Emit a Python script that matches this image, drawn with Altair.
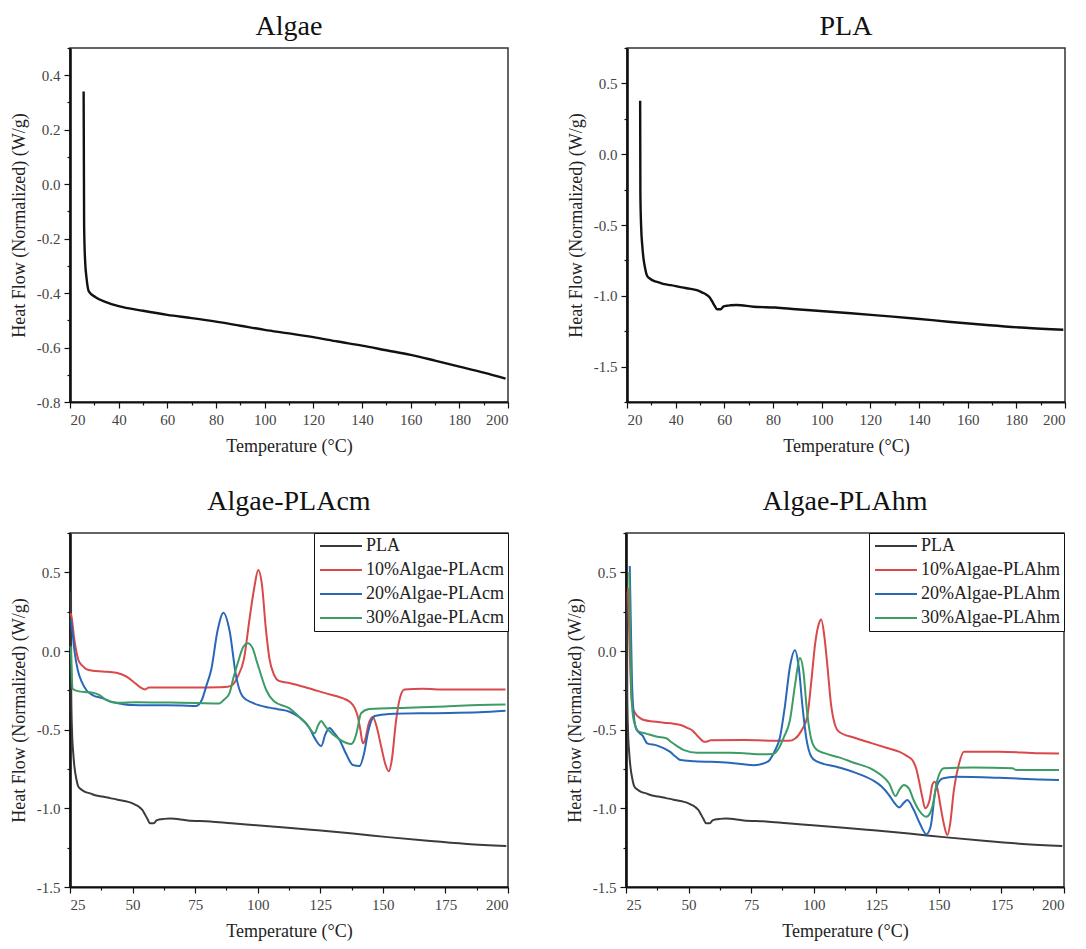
import altair as alt
import pandas as pd

FONT = "Liberation Serif"

# ---------------- data ----------------
algae_t = [25.6, 25.8, 26.2, 26.8, 27.8, 30.5, 34.8, 40, 50, 60, 70, 80, 90, 100,
           110, 120, 130, 140, 150, 160, 170, 180, 190, 199]
algae_v = [0.34, -0.15, -0.28, -0.345, -0.395, -0.415, -0.433, -0.448, -0.465, -0.48,
           -0.492, -0.505, -0.52, -0.535, -0.548, -0.562, -0.578, -0.593, -0.61,
           -0.627, -0.648, -0.67, -0.692, -0.714]

pla_t = [25.4, 25.5, 25.8, 26.3, 26.8, 27.5, 28.3, 29.5, 31, 33, 35.4, 38, 41, 44,
         46.8, 49, 51, 52.5, 54, 55, 56, 57, 58.5, 59.6, 61, 62.5, 65, 72, 81, 89.5,
         99.5, 112, 124, 138, 152, 169, 183.6, 199.3]
pla_v = [0.378, -0.28, -0.506, -0.65, -0.74, -0.81, -0.86, -0.88, -0.895, -0.905,
         -0.918, -0.925, -0.935, -0.945, -0.953, -0.962, -0.977, -0.99, -1.012, -1.04,
         -1.07, -1.095, -1.095, -1.076, -1.07, -1.067, -1.065, -1.077, -1.083, -1.095,
         -1.107, -1.123, -1.14, -1.16, -1.183, -1.208, -1.226, -1.24]

cm10_t = [25.3, 25.8, 26.5, 27.5, 28.4, 30, 31.5, 34, 38, 43.5, 47.6, 50.3, 53, 55,
          56.5, 65, 75, 84.6, 88, 90, 92, 94.5, 96.7, 98.7, 100.2, 101.7, 103.2, 104.7,
          106.5, 108.5, 113, 120, 127, 133.9, 136.7, 138.7, 140, 141, 142, 143, 144.2,
          146, 147.5, 149.5, 151, 152.4, 153.5, 155.3, 156.5, 158.6, 166, 175, 188.6, 199]
cm10_v = [0.24, 0.2, 0.1, 0.0, -0.06, -0.095, -0.115, -0.125, -0.13, -0.138, -0.163,
          -0.195, -0.23, -0.244, -0.232, -0.232, -0.232, -0.23, -0.228, -0.215, -0.163,
          -0.05, 0.2, 0.41, 0.515, 0.42, 0.15, -0.05, -0.15, -0.19, -0.205, -0.235,
          -0.268, -0.3, -0.322, -0.36, -0.418, -0.5, -0.587, -0.56, -0.47, -0.42, -0.48,
          -0.62, -0.72, -0.765, -0.7, -0.44, -0.32, -0.245, -0.24, -0.245, -0.244, -0.245]

cm20_t = [25.4, 26.0, 26.8, 28.1, 29.8, 31.5, 34, 38.1, 41, 44.8, 50, 60, 70, 75.4,
          77.7, 79.5, 81.4, 84, 86.3, 88.7, 91.4, 94, 98, 104.7, 108, 112.7, 116.5,
          120.7, 123, 125.4, 127, 128.7, 130.5, 132.7, 135.5, 138, 140.7, 142.5, 144,
          145.5, 146.7, 152.6, 170, 188.6, 199]
cm20_v = [0.2, 0.12, 0.0, -0.121, -0.2, -0.248, -0.28, -0.301, -0.32, -0.333, -0.343,
          -0.345, -0.347, -0.349, -0.31, -0.22, -0.121, 0.133, 0.243, 0.133, -0.163,
          -0.29, -0.33, -0.36, -0.37, -0.386, -0.42, -0.49, -0.56, -0.604, -0.53, -0.49,
          -0.52, -0.566, -0.66, -0.725, -0.731, -0.65, -0.523, -0.44, -0.413, -0.4,
          -0.395, -0.39, -0.38]

cm30_t = [25.3, 25.6, 26, 28.1, 32, 34.1, 36.8, 39.4, 43.4, 52, 65, 75, 84.7, 86.5,
          88.7, 90.3, 92, 94.2, 96, 98, 99.5, 100.7, 103.4, 106.5, 112.7, 116, 119.4,
          122.7, 124.2, 125.4, 126.6, 128, 132.7, 135.5, 137.3, 138.5, 139.5, 141.3,
          144.6, 160, 175, 188.6, 199]
cm30_v = [0.03, -0.1, -0.24, -0.255, -0.262, -0.265, -0.28, -0.31, -0.329, -0.325,
          -0.328, -0.33, -0.333, -0.31, -0.269, -0.17, -0.078, 0.025, 0.049, 0.017,
          -0.06, -0.121, -0.248, -0.32, -0.365, -0.41, -0.46, -0.523, -0.47, -0.445,
          -0.47, -0.498, -0.562, -0.585, -0.591, -0.57, -0.52, -0.396, -0.369, -0.36,
          -0.352, -0.343, -0.34]

hm10_t = [25.8, 26.3, 26.9, 27.6, 28.9, 30.5, 32.2, 36, 40.2, 44, 46.8, 49.7, 51.5, 53,
          54.2, 56.2, 57.5, 58.8, 72, 85, 90, 92.6, 95.3, 97.4, 99, 100.6, 102, 103,
          104.2, 105.5, 107, 108.5, 110.1, 116, 123.4, 129, 134.1, 137, 139.4, 141, 142,
          143.4, 144.5, 145.3, 146.3, 147.4, 148.3, 149.5, 150.7, 152, 153.4, 154.5,
          156, 158, 160, 174, 190, 198]
hm10_v = [0.4, 0.1, -0.2, -0.355, -0.4, -0.425, -0.439, -0.448, -0.456, -0.462, -0.47,
          -0.49, -0.505, -0.53, -0.55, -0.577, -0.575, -0.568, -0.566, -0.57, -0.571,
          -0.556, -0.5, -0.42, -0.2, 0.05, 0.17, 0.2, 0.1, -0.1, -0.35, -0.47, -0.513,
          -0.55, -0.587, -0.615, -0.64, -0.665, -0.693, -0.75, -0.82, -0.93, -1.0, -0.99,
          -0.947, -0.85, -0.831, -0.88, -0.99, -1.1, -1.17, -1.1, -0.884, -0.72, -0.64,
          -0.64, -0.65, -0.652]

hm20_t = [26.5, 26.9, 27.4, 28.2, 29.2, 31.7, 33.5, 37.2, 40.2, 42.5, 44.9, 46.8, 52.4,
          66.3, 76, 81.5, 84.3, 86.5, 88.5, 90.5, 92.5, 94, 95.5, 97, 99, 101, 110.1,
          116, 123.4, 127, 130.1, 132, 134.1, 136, 137.4, 140, 142.5, 145, 146.7, 148.7,
          151.4, 156.7, 174, 190, 198]
hm20_v = [0.54, 0.2, -0.2, -0.42, -0.5, -0.54, -0.587, -0.6, -0.619, -0.64, -0.672,
          -0.693, -0.7, -0.71, -0.726, -0.705, -0.64, -0.55, -0.35, -0.1, 0.005, -0.1,
          -0.35, -0.55, -0.67, -0.7, -0.74, -0.77, -0.82, -0.86, -0.916, -0.96, -0.994,
          -0.965, -0.947, -1.011, -1.1, -1.164, -1.117, -0.884, -0.81, -0.8, -0.806,
          -0.816, -0.82]

hm30_t = [26.3, 26.7, 27.2, 28.2, 30.2, 33, 37.5, 41.3, 42.9, 45, 48.2, 53.5, 66.3,
          72.1, 78.8, 83.6, 86, 88, 90.5, 92.5, 94.5, 95.8, 97.3, 99, 101, 104, 110.1,
          116, 123.4, 127, 130.1, 132.7, 134.3, 136, 138, 140, 142, 145, 146.5, 147.4,
          149.4, 152, 163.4, 179.4, 181, 198]
hm30_v = [0.5, 0.1, -0.29, -0.45, -0.513, -0.525, -0.545, -0.556, -0.577, -0.6, -0.63,
          -0.647, -0.647, -0.65, -0.657, -0.655, -0.62, -0.55, -0.44, -0.22, -0.045,
          -0.12, -0.38, -0.56, -0.625, -0.648, -0.676, -0.71, -0.752, -0.79, -0.841,
          -0.922, -0.88, -0.852, -0.873, -0.95, -1.011, -1.054, -1.03, -0.99, -0.82,
          -0.746, -0.74, -0.746, -0.757, -0.757]

# axis tick values (major + minor)
x_ticks_top = [20, 30, 40, 50, 60, 70, 80, 90, 100, 110, 120, 130, 140, 150, 160, 170,
               180, 190, 200]
x_ticks_bot = [25, 37.5, 50, 62.5, 75, 87.5, 100, 112.5, 125, 137.5, 150, 162.5, 175,
               187.5, 200]
y_ticks_algae = [-0.8, -0.7, -0.6, -0.5, -0.4, -0.3, -0.2, -0.1, 0.0, 0.1, 0.2, 0.3,
                 0.4, 0.5]
y_ticks_pla = [-1.75, -1.5, -1.25, -1.0, -0.75, -0.5, -0.25, 0.0, 0.25, 0.5, 0.75]
y_ticks_mix = [-1.5, -1.25, -1.0, -0.75, -0.5, -0.25, 0.0, 0.25, 0.5, 0.75]

series_cm = ["PLA", "10%Algae-PLAcm", "20%Algae-PLAcm", "30%Algae-PLAcm"]
series_hm = ["PLA", "10%Algae-PLAhm", "20%Algae-PLAhm", "30%Algae-PLAhm"]
colors = ["#3b3b3b", "#d9484a", "#2a67b8", "#3c9c66"]

W, H = 438, 354


def frame(pairs, names):
    rows = []
    for name, (ts, vs) in zip(names, pairs):
        for i, (t, v) in enumerate(zip(ts, vs)):
            rows.append({"series": name, "T": t, "V": v, "i": i})
    return pd.DataFrame(rows)


def is_major(step):
    k = 1.0 / step
    return f"abs(datum.value*{k} - round(datum.value*{k})) < 0.001"


AX = dict(grid=False, labelFont=FONT, labelFontSize=15, labelColor="#444",
          titleFont=FONT, titleFontSize=18, titleFontWeight="normal", titleColor="#222")


def x_axis(ticks, step):
    cond = is_major(step)
    return alt.Axis(values=ticks, title="Temperature (°C)",
                    labelExpr=f"{cond} ? format(datum.value, 'd') : ''",
                    tickSize={"condition": {"test": cond, "value": 6}, "value": 3},
                    **AX)


def y_axis(ticks, step):
    cond = is_major(step)
    return alt.Axis(values=ticks, title="Heat Flow (Normalized) (W/g)",
                    labelExpr=f"{cond} ? replace(format(datum.value, '.1f'), '\u2212', '-') : ''",
                    tickSize={"condition": {"test": cond, "value": 6}, "value": 3},
                    **AX)


def title(text, offset):
    return alt.TitleParams(text=text, font=FONT, fontSize=28, fontWeight="normal",
                           color="#111", offset=offset)


def single(ts, vs, name, ydom, yticks, ystep):
    df = pd.DataFrame({"T": ts, "V": vs})
    return alt.Chart(df, title=title(name, 6)).mark_line(
        color="#111", strokeWidth=2.4, interpolate="monotone"
    ).encode(
        x=alt.X("T:Q", scale=alt.Scale(domain=[20, 200], nice=False, zero=False),
                axis=x_axis(x_ticks_top, 20)),
        y=alt.Y("V:Q", scale=alt.Scale(domain=ydom, nice=False, zero=False),
                axis=y_axis(yticks, ystep)),
    ).properties(width=W, height=H)


def multi(pairs, names, name):
    df = frame(pairs, names)
    return alt.Chart(df, title=title(name, 16)).mark_line(
        strokeWidth=2, interpolate="monotone"
    ).encode(
        x=alt.X("T:Q", scale=alt.Scale(domain=[25, 200], nice=False, zero=False),
                axis=x_axis(x_ticks_bot, 25)),
        y=alt.Y("V:Q", scale=alt.Scale(domain=[-1.5, 0.75], nice=False, zero=False),
                axis=y_axis(y_ticks_mix, 0.5)),
        color=alt.Color("series:N", sort=names,
                        scale=alt.Scale(domain=names, range=colors),
                        legend=alt.Legend(title=None, orient="top-right", offset=0,
                                          padding=4, strokeColor="#111",
                                          fillColor="white", symbolType="M-1,0H5",
                                          symbolSize=196, symbolStrokeWidth=2.2,
                                          labelFont=FONT, labelFontSize=18,
                                          labelColor="#222", labelOffset=30,
                                          rowPadding=6, labelLimit=300)),
        order=alt.Order("i:Q"),
    ).properties(width=W, height=H)


top = alt.hconcat(
    single(algae_t, algae_v, "Algae", [-0.8, 0.5], y_ticks_algae, 0.2),
    single(pla_t, pla_v, "PLA", [-1.75, 0.75], y_ticks_pla, 0.5),
    spacing=54,
)
bottom = alt.hconcat(
    multi([(pla_t, pla_v), (cm10_t, cm10_v), (cm20_t, cm20_v), (cm30_t, cm30_v)],
          series_cm, "Algae-PLAcm"),
    multi([(pla_t, pla_v), (hm10_t, hm10_v), (hm20_t, hm20_v), (hm30_t, hm30_v)],
          series_hm, "Algae-PLAhm"),
    spacing=54,
).resolve_scale(color="independent").resolve_legend(color="independent")

chart = alt.vconcat(top, bottom, spacing=31).configure(
    padding={"left": 1, "top": 4, "right": 0, "bottom": 0},
    background="white",
).configure_view(
    stroke="#333", strokeWidth=1.5
).configure_axis(
    labelPadding=4, domainColor="#111", tickColor="#111", tickWidth=1.2,
).configure_axisY(
    domainWidth=2.6, minExtent=38, maxExtent=38, titlePadding=4,
).configure_axisX(
    domainWidth=2, titlePadding=10,
)

chart.save("out.html", embed_options={"renderer": "svg", "actions": False})
